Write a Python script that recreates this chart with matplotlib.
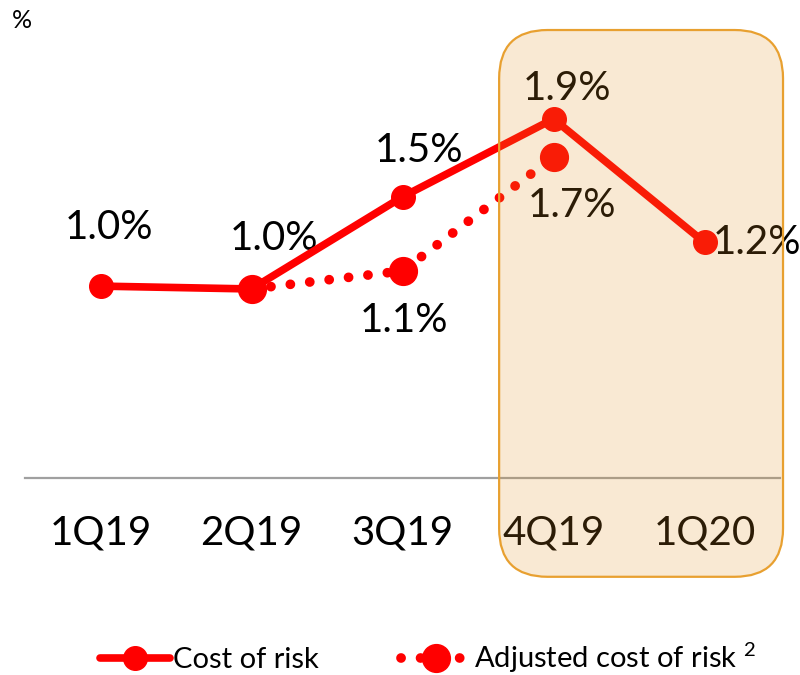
import numpy as np
import matplotlib
matplotlib.use("Agg")
import matplotlib.pyplot as plt
from matplotlib.patches import FancyBboxPatch

plt.rcParams['font.family'] = ['Lato', 'DejaVu Sans']
plt.rcParams['mathtext.fontset'] = 'custom'
plt.rcParams['mathtext.rm'] = 'Lato'
plt.rcParams['mathtext.it'] = 'Lato'

quarters = ["1Q19", "2Q19", "3Q19", "4Q19", "1Q20"]
cost_of_risk = [1.01, 0.995, 1.48, 1.89, 1.24]
adjusted_cost = [np.nan, 0.995, 1.09, 1.69, np.nan]
cost_labels = ["1.0%", "1.0%", "1.5%", "1.9%", "1.2%"]
adjusted_labels = [None, None, "1.1%", "1.7%", None]

RED = "#FF0000"

fig = plt.figure(figsize=(8, 6.75), dpi=100)
ax = fig.add_axes([25 / 800, 197 / 675, 755 / 800, 478 / 675])

x = np.arange(len(quarters))

ax.plot(x, cost_of_risk, color=RED, lw=5.5, marker="o", markersize=17,
        solid_capstyle="round", zorder=4, label="Cost of risk")
ax.plot(x, adjusted_cost, color=RED, lw=7, linestyle=(0, (0.01, 2.0)),
        dash_capstyle="round", marker="o", markersize=20, zorder=3,
        label="Adjusted cost of risk $^{2}$")

# data labels (offsets in points)
cost_offsets = [(6, 42), (16, 36), (12, 33), (10, 22), (38, 0)]
for xi, yi, lab, off in zip(x, cost_of_risk, cost_labels, cost_offsets):
    ax.annotate(lab, (xi, yi), xytext=off, textcoords="offset points",
                ha="center", va="center", fontsize=29, color="black")
adj_offsets = [None, None, (1, -36), (13, -35), None]
for xi, yi, lab, off in zip(x, adjusted_cost, adjusted_labels, adj_offsets):
    if lab is None:
        continue
    ax.annotate(lab, (xi, yi), xytext=off, textcoords="offset points",
                ha="center", va="center", fontsize=29, color="black")

ax.set_xlim(-0.5, 4.5)
ax.set_ylim(0, 2.516)
ax.set_xticks(x)
ax.set_xticklabels(quarters, fontsize=29)
ax.tick_params(axis="x", length=0, pad=26)
ax.set_yticks([])
for side in ["top", "right", "left"]:
    ax.spines[side].set_visible(False)
ax.spines["bottom"].set_color("#A0A0A0")
ax.spines["bottom"].set_linewidth(1.6)

# highlight box over the last two quarters (translucent, drawn on top)
bx0, bx1 = 3 - 0.36, 4 + 0.52
by0, by1 = -0.52, 2.358
box = FancyBboxPatch((bx0, by0), bx1 - bx0, by1 - by0,
                     boxstyle="round,pad=0,rounding_size=0.32",
                     mutation_aspect=151 / 190,
                     facecolor=(0.882, 0.569, 0.137, 0.2),
                     edgecolor="#E8A030", lw=1.6, clip_on=False, zorder=10)
ax.add_patch(box)

fig.text(22 / 800, 1 - 20 / 675, "%", fontsize=18, ha="center", va="center")

leg = fig.legend(loc="center", bbox_to_anchor=(428 / 800, 1 - 658 / 675),
                 ncol=2, frameon=False, fontsize=21, handlelength=2.4,
                 columnspacing=2.8, handletextpad=0.1)

fig.savefig("out.png", dpi=100)
